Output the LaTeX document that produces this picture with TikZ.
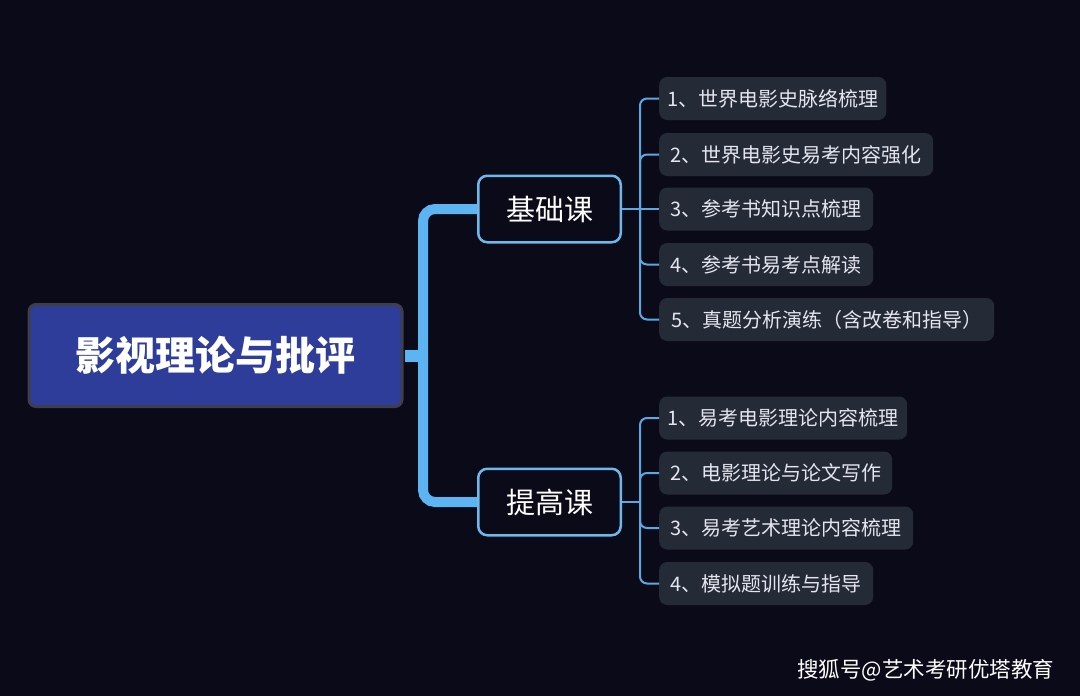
\documentclass[tikz,border=0pt]{standalone}
\usepackage{fontspec}
\setmainfont{Noto Sans CJK SC}
\definecolor{bg}{HTML}{0B0A19}
\definecolor{rootfill}{HTML}{2E3D9A}
\definecolor{rootedge}{HTML}{3E3E4C}
\definecolor{catedge}{HTML}{6DB9EC}
\definecolor{leaffill}{HTML}{252A37}
\definecolor{leaftext}{HTML}{E4E6EE}
\definecolor{trunkc}{HTML}{5DB4F2}
\definecolor{branchc}{HTML}{5CA9E2}
\begin{document}
\begin{tikzpicture}[x=1pt,y=-1pt,
  rootbox/.style={draw=rootedge, line width=3pt, fill=rootfill, rounded corners=7pt,
    minimum width=373pt, minimum height=102pt, text=white,
    font=\fontsize{40}{40}\bfseries\selectfont},
  catbox/.style={draw=catedge, line width=2.5pt, fill=bg, rounded corners=9pt,
    minimum width=142.5pt, minimum height=66.5pt, text=white,
    font=\fontsize{29}{29}\selectfont},
  leaf/.style={fill=leaffill, rounded corners=8pt, minimum height=43pt, inner xsep=8pt,
    anchor=west, text=leaftext, font=\fontsize{20}{22}\selectfont},
  trunk/.style={draw=trunkc, line width=10pt, rounded corners=12pt},
  branch/.style={draw=branchc, line width=2pt, rounded corners=7pt}]
\useasboundingbox[fill=bg] (0,0) rectangle (1080,696);
% nodes
\node[rootbox] (root) at (215.5,355.5) {影视理论与批评};
\node[catbox] (jc) at (549.5,209) {基础课};
\node[catbox] (tg) at (549.5,502) {提高课};
\node[leaf, minimum width=227pt] (a1) at (659,98.5) {1、世界电影史脉络梳理};
\node[leaf, minimum width=274pt] (a2) at (659,154.5) {2、世界电影史易考内容强化};
\node[leaf, minimum width=214pt] (a3) at (659,209) {3、参考书知识点梳理};
\node[leaf, minimum width=214pt] (a4) at (659,264.5) {4、参考书易考点解读};
\node[leaf, minimum width=335pt] (a5) at (659,319.5) {5、真题分析演练（含改卷和指导）};
\node[leaf, minimum width=248pt] (b1) at (659,418) {1、易考电影理论内容梳理};
\node[leaf, minimum width=233pt] (b2) at (659,473) {2、电影理论与论文写作};
\node[leaf, minimum width=254pt] (b3) at (659,528) {3、易考艺术理论内容梳理};
\node[leaf, minimum width=214pt] (b4) at (659,583.5) {4、模拟题训练与指导};
\node[anchor=west, inner sep=0pt, text=white, font=\fontsize{21.5}{22}\selectfont] (wm) at (797,670) {搜狐号@艺术考研优塔教育};
% connectors
\coordinate (tx) at (423,355.5);
\coordinate (ja) at (640,209);
\coordinate (tb) at (640,502);
\draw[trunk] (jc.west) -| (tx) |- (tg.west);
\draw[trunk, line width=12pt, shorten <=1.5pt] (root.east) -- (tx);
\draw[branch] (jc.east) -- (ja);
\draw[branch] (ja) |- (a1.west);
\draw[branch] (ja) |- (a2.west);
\draw[branch] (ja) -- (a3.west);
\draw[branch] (ja) |- (a4.west);
\draw[branch] (ja) |- (a5.west);
\draw[branch] (tg.east) -- (tb);
\draw[branch] (tb) |- (b1.west);
\draw[branch] (tb) |- (b2.west);
\draw[branch] (tb) |- (b3.west);
\draw[branch] (tb) |- (b4.west);
\end{tikzpicture}
\end{document}
